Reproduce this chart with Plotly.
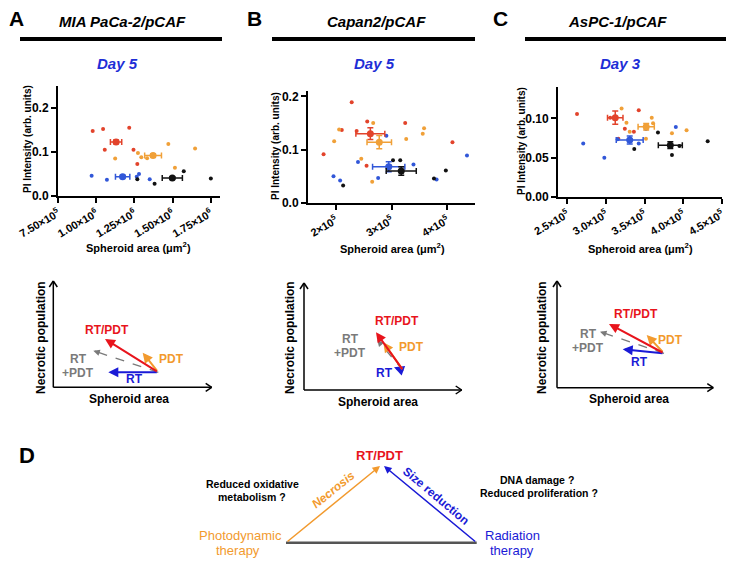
import plotly.graph_objects as go

# ---------------- data ----------------
# group order: RT/PDT (red), PDT (orange), RT (blue), control (black)

# Panel A: MIA PaCa-2/pCAF, day 5
a_x = [
    [9.77e5, 1.045e6, 1.056e6, 1.216e6, 1.244e6, 1.269e6],
    [1.124e6, 1.273e6, 1.295e6, 1.333e6, 1.472e6, 1.515e6, 1.647e6],
    [9.70e5, 1.070e6, 1.265e6, 1.280e6, 1.350e6],
    [1.269e6, 1.382e6, 1.573e6, 1.750e6],
]
a_y = [
    [0.148, 0.152, 0.105, 0.155, 0.105, 0.073],
    [0.085, 0.098, 0.088, 0.086, 0.118, 0.064, 0.108],
    [0.046, 0.037, 0.044, 0.050, 0.038],
    [0.038, 0.028, 0.056, 0.040],
]
a_mean_x = [1.13e6, 1.372e6, 1.173e6, 1.498e6]
a_mean_y = [0.123, 0.092, 0.044, 0.041]
a_sem_x = [3.7e4, 5.5e4, 4.7e4, 6.6e4]
a_sem_y = [0.004, 0.004, 0.003, 0.003]

# Panel B: Capan2/pCAF, day 5
b_x = [
    [1.78e5, 2.107e5, 2.285e5, 2.374e5, 2.552e5, 2.564e5, 3.246e5, 4.095e5],
    [1.970e5, 2.059e5, 2.457e5, 2.653e5, 2.671e5, 3.264e5, 3.561e5, 3.585e5],
    [1.958e5, 2.077e5, 2.398e5, 2.760e5, 2.908e5, 3.395e5, 3.810e5, 4.356e5],
    [2.131e5, 2.979e5, 3.027e5, 3.157e5, 3.763e5, 3.976e5],
]
b_y = [
    [0.0915, 0.137, 0.189, 0.135, 0.070, 0.153, 0.150, 0.114],
    [0.116, 0.138, 0.083, 0.040, 0.150, 0.120, 0.130, 0.140],
    [0.050, 0.042, 0.077, 0.047, 0.126, 0.072, 0.044, 0.089],
    [0.033, 0.069, 0.080, 0.080, 0.046, 0.061],
]
b_mean_x = [2.62e5, 2.78e5, 2.95e5, 3.175e5]
b_mean_y = [0.130, 0.114, 0.068, 0.060]
b_sem_x = [2.6e4, 2.2e4, 2.9e4, 2.7e4]
b_sem_y = [0.011, 0.0125, 0.0094, 0.0078]

# Panel C: AsPC-1/pCAF, day 3
c_x = [
    [2.626e5, 3.055e5, 3.244e5, 3.361e5, 3.424e5, 3.16e5],
    [3.202e5, 3.265e5, 3.307e5, 3.517e5, 3.592e5, 3.609e5, 3.853e5, 4.042e5],
    [2.706e5, 2.979e5, 3.151e5, 3.424e5, 3.517e5, 3.903e5],
    [3.366e5, 3.672e5, 3.853e5, 3.95e5, 4.315e5],
]
c_y = [
    [0.1055, 0.101, 0.087, 0.083, 0.1105, 0.074],
    [0.1125, 0.0945, 0.083, 0.074, 0.101, 0.094, 0.081, 0.085],
    [0.068, 0.050, 0.0735, 0.068, 0.0865, 0.089],
    [0.061, 0.082, 0.0536, 0.065, 0.071],
]
c_mean_x = [3.12e5, 3.52e5, 3.307e5, 3.832e5]
c_mean_y = [0.101, 0.0895, 0.0726, 0.066]
c_sem_x = [1.0e4, 1.05e4, 1.74e4, 1.55e4]
c_sem_y = [0.0085, 0.0042, 0.005, 0.0042]

# ticks
a_xticks = [7.5e5, 1.0e6, 1.25e6, 1.5e6, 1.75e6]
a_xticktext = ["7.50×10<sup>5</sup>", "1.00×10<sup>6</sup>", "1.25×10<sup>6</sup>",
               "1.50×10<sup>6</sup>", "1.75×10<sup>6</sup>"]
a_yticks = [0, 0.1, 0.2]
a_yticktext = ["0.0", "0.1", "0.2"]
b_xticks = [2e5, 3e5, 4e5]
b_xticktext = ["2×10<sup>5</sup>", "3×10<sup>5</sup>", "4×10<sup>5</sup>"]
b_yticks = [0, 0.1, 0.2]
b_yticktext = ["0.0", "0.1", "0.2"]
c_xticks = [2.5e5, 3.0e5, 3.5e5, 4.0e5, 4.5e5]
c_xticktext = ["2.5×10<sup>5</sup>", "3.0×10<sup>5</sup>", "3.5×10<sup>5</sup>",
               "4.0×10<sup>5</sup>", "4.5×10<sup>5</sup>"]
c_yticks = [0, 0.05, 0.10]
c_yticktext = ["0.00", "0.05", "0.10"]

# ---------------- layout helpers ----------------
# the page body has an 8px margin, so the figure is made 8px smaller
# and every page-pixel position is shifted by that offset
OFF = 8
W, H = 734 - OFF, 564 - OFF
FONT = "Liberation Sans, Arial, sans-serif"
COLS = ["#E2432B", "#F0A038", "#3157D8", "#111111"]
RED, ORANGE, BLUE, GRAY = "#E8141C", "#F29A2E", "#1A1AD6", "#7A7A7A"


def px(x):
    return (x - OFF) / W


def py(y):
    return 1 - (y - OFF) / H


fig = go.Figure()

panels = [
    ("", a_x, a_y, a_mean_x, a_mean_y, a_sem_x, a_sem_y),
    ("2", b_x, b_y, b_mean_x, b_mean_y, b_sem_x, b_sem_y),
    ("3", c_x, c_y, c_mean_x, c_mean_y, c_sem_x, c_sem_y),
]
for suf, xs, ys, mx, my, sx, sy in panels:
    for g in range(4):
        fig.add_trace(go.Scatter(
            x=xs[g], y=ys[g], mode="markers", xaxis="x" + suf, yaxis="y" + suf,
            marker=dict(size=4, color=COLS[g]), hoverinfo="skip"))
    for g in range(4):
        fig.add_trace(go.Scatter(
            x=[mx[g]], y=[my[g]], mode="markers", xaxis="x" + suf, yaxis="y" + suf,
            marker=dict(size=7, color=COLS[g]),
            error_x=dict(type="data", array=[sx[g]], color=COLS[g], thickness=1.5, width=3),
            error_y=dict(type="data", array=[sy[g]], color=COLS[g], thickness=1.5, width=3),
            hoverinfo="skip"))


def xax(dom, rng, vals, texts, anchor):
    return dict(domain=[px(dom[0]), px(dom[1])], range=rng, anchor=anchor, automargin=False,
                tickvals=vals, ticktext=["<b>%s</b>" % t for t in texts], tickangle=-30,
                showline=True, linecolor="black", linewidth=2, ticks="outside", ticklen=5,
                tickwidth=2, tickcolor="black", showgrid=False, zeroline=False,
                tickfont=dict(family=FONT, size=11, color="black"), fixedrange=True)


def yax(dom, rng, vals, texts, anchor):
    return dict(domain=[py(dom[1]), py(dom[0])], range=rng, anchor=anchor, automargin=False,
                tickvals=vals, ticktext=["<b>%s</b>" % t for t in texts],
                showline=True, linecolor="black", linewidth=2, ticks="outside", ticklen=5,
                tickwidth=2, tickcolor="black", showgrid=False, zeroline=False,
                tickfont=dict(family=FONT, size=12, color="black"), fixedrange=True)


fig.update_layout(
    xaxis=xax((58, 220), [7.5e5, 1.81e6], a_xticks, a_xticktext, "y"),
    yaxis=yax((86, 196), [0, 0.25], a_yticks, a_yticktext, "x"),
    xaxis2=xax((308, 475), [1.5e5, 4.5e5], b_xticks, b_xticktext, "y2"),
    yaxis2=yax((91, 203), [0, 0.21], b_yticks, b_yticktext, "x2"),
    xaxis3=xax((558, 722), [2.38e5, 4.5e5], c_xticks, c_xticktext, "y3"),
    yaxis3=yax((87, 197), [0, 0.14], c_yticks, c_yticktext, "x3"),
)

ann = []
shapes = []


def txt(x, y, s, size, color="black", bold=True, italic=False, angle=0, anchor="center"):
    if italic:
        s = "<i>%s</i>" % s
    if bold:
        s = "<b>%s</b>" % s
    ann.append(dict(x=px(x), y=py(y), xref="paper", yref="paper", text=s, showarrow=False,
                    font=dict(family=FONT, size=size, color=color), textangle=angle,
                    xanchor=anchor, yanchor="middle"))


def arrow(tail, head, color, width=2, size=1.0):
    ann.append(dict(x=px(head[0]), y=py(head[1]), xref="paper", yref="paper",
                    ax=tail[0] - head[0], ay=tail[1] - head[1], axref="pixel", ayref="pixel",
                    text="", showarrow=True, arrowhead=2, arrowsize=size, arrowwidth=width,
                    arrowcolor=color, standoff=0, startstandoff=0))


def line(p0, p1, color="black", width=2, dash="solid"):
    shapes.append(dict(type="line", xref="paper", yref="paper",
                       x0=px(p0[0]), y0=py(p0[1]), x1=px(p1[0]), y1=py(p1[1]),
                       line=dict(color=color, width=width, dash=dash)))


# panel headers
headers = [
    ("A", 16, "MIA PaCa-2/pCAF", 122, (20, 222), "Day 5", 117),
    ("B", 254, "Capan2/pCAF", 376, (272, 475), "Day 5", 375),
    ("C", 500, "AsPC-1/pCAF", 617, (525, 727), "Day 3", 620),
]
for letter, lx, title, tx, (l0, l1), day, dx in headers:
    txt(lx, 18, letter, 21)
    txt(tx, 22, title, 15, italic=True)
    line((l0, 39), (l1, 39), width=4)
    txt(dx, 63, day, 15, color="#1E2ED6", italic=True)

# scatter axis titles
for yx, yy, xx, xy in [(27, 139, 138, 247), (275, 146, 392, 248), (521, 141, 640, 248)]:
    txt(yx, yy, "PI Intensity (arb. units)", 10, angle=-90)
    txt(xx, xy, "Spheroid area (μm<sup>2</sup>)", 11)

# schematic vector diagrams (pixel geometry of the drawing)
diagrams = [
    dict(ax0=53.3, ay0=387.3, xend=211.7, top=281, ntx=41, sx=129, sy=399,
         o=(158.3, 372.3), red=(105, 339), gray=(93.3, 350.7), org=(142.7, 352.7), blu=(108.3, 372.3),
         lred=(106.7, 330), lgray=(78, 359), lorg=(171.7, 359), lblu=(134, 379)),
    dict(ax0=304, ay0=390, xend=461.7, top=283, ntx=290, sx=378.3, sy=401.7,
         o=(403.3, 370.7), red=(376, 332.3), gray=(377.3, 340), org=(383.3, 342.3), blu=(394, 367.3),
         lred=(397.3, 320.7), lgray=(350, 339), lorg=(411.7, 346.7), lblu=(384, 372.7)),
    dict(ax0=557, ay0=387.7, xend=713.3, top=281, ntx=542, sx=629.3, sy=399.3,
         o=(664, 353.3), red=(609, 324), gray=(600, 331.7), org=(646.7, 335), blu=(622.7, 349.3),
         lred=(636, 314), lgray=(588.3, 334), lorg=(670, 340), lblu=(639.3, 361.7)),
]
for d in diagrams:
    x0, y0 = d["ax0"], d["ay0"]
    line((x0, y0), (x0, d["top"]), width=1.5)
    line((x0, y0), (d["xend"], y0), width=1.5)
    line((x0 - 4, d["top"] + 6), (x0, d["top"]), width=1.5)
    line((x0 + 4, d["top"] + 6), (x0, d["top"]), width=1.5)
    line((d["xend"] - 6, y0 - 4), (d["xend"], y0), width=1.5)
    line((d["xend"] - 6, y0 + 4), (d["xend"], y0), width=1.5)
    txt(d["ntx"], 338, "Necrotic population", 12, angle=-90)
    txt(d["sx"], d["sy"], "Spheroid area", 12)
    o = d["o"]
    # dashed combined vector
    gx, gy = d["gray"]
    vx, vy = gx - o[0], gy - o[1]
    n = (vx ** 2 + vy ** 2) ** 0.5
    line(o, (gx - vx / n * 4, gy - vy / n * 4), color=GRAY, width=1.3, dash="dash")
    arrow((gx - vx / n * 8, gy - vy / n * 8), (gx, gy), GRAY, width=1.3)
    arrow(o, d["blu"], BLUE, width=2)
    arrow(o, d["org"], ORANGE, width=2)
    arrow(o, d["red"], RED, width=2)
    txt(d["lred"][0], d["lred"][1], "RT/PDT", 12, color=RED)
    txt(d["lgray"][0], d["lgray"][1], "RT", 12, color=GRAY)
    txt(d["lgray"][0], d["lgray"][1] + 14, "+PDT", 12, color=GRAY)
    txt(d["lorg"][0], d["lorg"][1], "PDT", 12, color=ORANGE)
    txt(d["lblu"][0], d["lblu"][1], "RT", 12, color=BLUE)

# panel D
txt(27, 455, "D", 22)
txt(380, 455, "RT/PDT", 13, color=RED)
line((286, 542.7), (476.7, 542.7), color="#555555", width=2.5)
arrow((286, 542.7), (380, 466), ORANGE, width=1.5)
arrow((476.7, 542.7), (384, 466), BLUE, width=1.5)
txt(333, 490, "Necrosis", 12, color=ORANGE, italic=True, angle=-39)
txt(436, 496, "Size reduction", 12, color=BLUE, angle=40)
txt(252, 484, "Reduced oxidative", 10.5)
txt(252, 497, "metabolism ?", 10.5)
txt(537, 480, "DNA damage ?", 10.5)
txt(539, 493, "Reduced proliferation ?", 10.5)
txt(240, 535, "Photodynamic", 13, color=ORANGE, bold=False)
txt(238, 550, "therapy", 13, color=ORANGE, bold=False)
txt(512, 535, "Radiation", 13, color=BLUE, bold=False)
txt(512, 550, "therapy", 13, color=BLUE, bold=False)

fig.update_layout(
    width=W, height=H, margin=dict(l=0, r=0, t=0, b=0),
    paper_bgcolor="white", plot_bgcolor="white", showlegend=False,
    annotations=ann, shapes=shapes,
)

fig.write_html("out.html")
